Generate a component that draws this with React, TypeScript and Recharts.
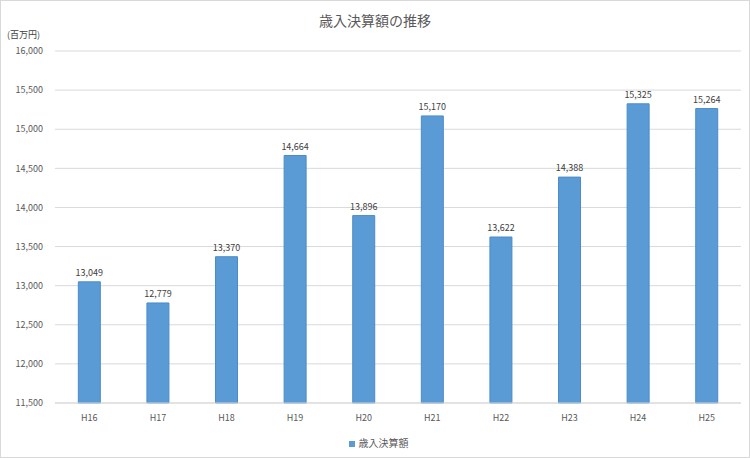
import { BarChart, Bar, XAxis, YAxis, CartesianGrid, Legend, LabelList } from "recharts"

const years = ["H16", "H17", "H18", "H19", "H20", "H21", "H22", "H23", "H24", "H25"]
const revenue = [13049, 12779, 13370, 14664, 13896, 15170, 13622, 14388, 15325, 15264]
const yTicks = [11500, 12000, 12500, 13000, 13500, 14000, 14500, 15000, 15500, 16000]

const data = years.map((year, i) => ({ year, value: revenue[i] }))

const font = "'Noto Sans CJK JP', 'Noto Sans', sans-serif"
const fmt = (v: number) => v.toLocaleString("en-US")

export default function App() {
  return (
    <div
      style={{
        position: "absolute",
        left: 0,
        top: 0,
        width: 750,
        height: 458,
        background: "#fff",
        boxSizing: "border-box",
        border: "1px solid #d9d9d9",
        fontFamily: font,
      }}
    >
      <div
        style={{
          position: "absolute",
          top: 9,
          width: "100%",
          textAlign: "center",
          fontSize: 14,
          color: "#595959",
        }}
      >
        歳入決算額の推移
      </div>
      <div style={{ position: "absolute", left: 6, top: 27, fontSize: 9, color: "#404040" }}>
        (百万円)
      </div>
      <div style={{ position: "absolute", left: -1, top: -1 }}>
        <BarChart
          width={750}
          height={458}
          data={data}
          margin={{ top: 51, right: 9, left: 0, bottom: 15 }}
          barCategoryGap="34%"
        >
          <CartesianGrid vertical={false} stroke="#d9d9d9" />
          <XAxis
            dataKey="year"
            tickLine={false}
            axisLine={{ stroke: "#d9d9d9" }}
            tick={{ fill: "#595959", fontSize: 9, fontFamily: font }}
            tickMargin={6}
            height={25}
          />
          <YAxis
            width={55}
            domain={[11500, 16000]}
            ticks={yTicks}
            tickFormatter={fmt}
            tickLine={false}
            axisLine={false}
            tick={{ fill: "#595959", fontSize: 9, fontFamily: font }}
            tickMargin={6}
          />
          <Legend
            verticalAlign="bottom"
            iconType="square"
            iconSize={6}
            wrapperStyle={{ fontSize: 10, color: "#595959", fontFamily: font, bottom: 8, left: 13 }}
            formatter={(v) => <span style={{ color: "#595959" }}>{v}</span>}
          />
          <Bar dataKey="value" name="歳入決算額" fill="#5b9bd5" stroke="#4a8bc9" isAnimationActive={false}>
            <LabelList
              dataKey="value"
              position="top"
              formatter={(v: number) => fmt(v)}
              style={{ fill: "#404040", fontSize: 9, fontFamily: font }}
              offset={6}
            />
          </Bar>
        </BarChart>
      </div>
    </div>
  )
}
